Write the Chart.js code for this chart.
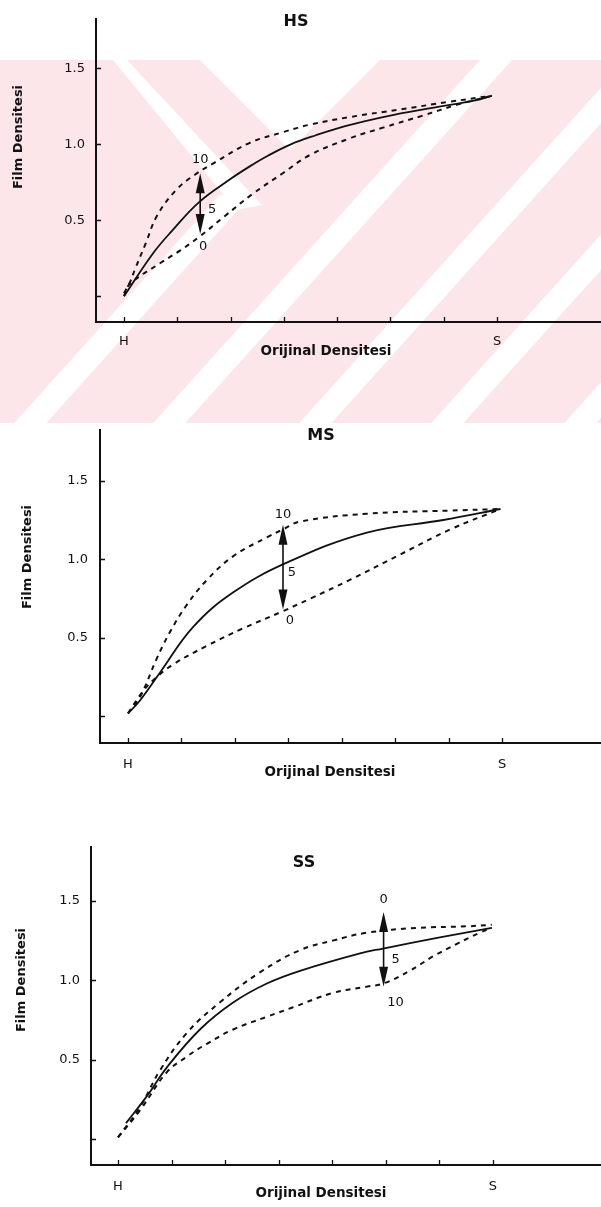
<!DOCTYPE html>
<html>
<head>
<meta charset="utf-8">
<script src="https://cdn.jsdelivr.net/npm/chart.js@4/dist/chart.umd.min.js"></script>
<style>
  html, body { margin: 0; padding: 0; background: #fff; }
  body { width: 601px; height: 1207px; position: relative; overflow: hidden; }
  canvas { position: absolute; left: 0; display: block; }
</style>
</head>
<body>
<canvas id="hs" width="601" height="425" style="top:0px"></canvas>
<canvas id="ms" width="601" height="390" style="top:410px"></canvas>
<canvas id="ss" width="601" height="407" style="top:800px"></canvas>
<script>
// axes (x: H .. S in tick steps)
const xTicks = [0, 1, 2, 3, 4, 5, 6, 7];
const xTickLabels = ['H', '', '', '', '', '', '', 'S'];
const yTicks = [0, 0.5, 1.0, 1.5];
const yTickLabels = ['', '0.5', '1.0', '1.5'];
const yAxisTitle = 'Film Densitesi';
const xAxisTitle = 'Orijinal Densitesi';

// HS
const hsTitle = 'HS';
const hs5X = [0, 0.54, 0.9, 1.41, 1.99, 2.36, 2.7, 3.13, 3.6, 4.15, 4.86, 5.94, 6.59, 6.9];
const hs5Y = [0, 0.28, 0.43, 0.62, 0.77, 0.855, 0.925, 1.0, 1.06, 1.12, 1.18, 1.25, 1.29, 1.32];
const hs10X = [0, 0.11, 0.21, 0.41, 0.62, 0.98, 1.33, 1.7, 2.36, 2.98, 3.49, 4.24, 5.18, 6.1, 6.9];
const hs10Y = [0.02, 0.09, 0.18, 0.35, 0.53, 0.70, 0.80, 0.88, 1.01, 1.08, 1.13, 1.18, 1.23, 1.28, 1.32];
const hs0X = [0, 0.11, 0.69, 1.05, 1.41, 1.9, 2.4, 2.98, 3.49, 4.24, 4.86, 5.61, 6.24, 6.9];
const hs0Y = [0, 0.08, 0.22, 0.30, 0.39, 0.53, 0.67, 0.81, 0.93, 1.04, 1.11, 1.19, 1.26, 1.32];
const hsArrowX = 1.43;
const hsArrowY = [0.41, 0.62, 0.81];          // low, mid, high
const hsArrowLabels = ['10', '5', '0'];       // top, mid, bottom

// MS
const msTitle = 'MS';
const ms5X = [0, 0.22, 0.6, 1.22, 1.97, 2.98, 4.47, 5.9, 6.97];
const ms5Y = [0.02, 0.1, 0.28, 0.57, 0.79, 0.98, 1.17, 1.25, 1.32];
const ms10X = [0, 0.22, 0.54, 0.79, 1.1, 1.48, 1.97, 2.6, 2.9, 3.22, 4.47, 6.03, 6.97];
const ms10Y = [0.02, 0.12, 0.37, 0.54, 0.71, 0.87, 1.02, 1.14, 1.19, 1.24, 1.29, 1.31, 1.32];
const ms0X = [0, 0.28, 0.47, 0.84, 1.48, 2.15, 2.9, 3.41, 4.16, 5.09, 6.03, 6.97];
const ms0Y = [0.02, 0.16, 0.23, 0.33, 0.45, 0.56, 0.67, 0.75, 0.87, 1.03, 1.19, 1.32];
const msArrowX = 2.9;
const msArrowY = [0.68, 0.99, 1.22];
const msArrowLabels = ['10', '5', '0'];

// SS
const ssTitle = 'SS';
const ss5X = [0.15, 0.54, 0.91, 1.53, 2.15, 2.78, 3.4, 4.52, 4.95, 6.01, 6.98];
const ss5Y = [0.1, 0.27, 0.45, 0.69, 0.86, 0.98, 1.06, 1.17, 1.20, 1.27, 1.33];
const ss0X = [0, 0.41, 0.78, 1.29, 1.9, 2.65, 3.4, 4.01, 4.65, 5.58, 6.51, 6.98];
const ss0Y = [0.01, 0.2, 0.43, 0.67, 0.86, 1.05, 1.19, 1.25, 1.30, 1.33, 1.34, 1.35];
const ss10X = [0, 0.41, 0.91, 1.29, 1.66, 2.15, 2.78, 3.27, 4.01, 4.65, 4.96, 5.45, 5.88, 6.33, 6.76, 6.98];
const ss10Y = [0.01, 0.18, 0.42, 0.52, 0.60, 0.69, 0.77, 0.83, 0.92, 0.96, 0.98, 1.06, 1.15, 1.23, 1.30, 1.33];
const ssArrowX = 4.96;
const ssArrowY = [0.96, 1.20, 1.43];
const ssArrowLabels = ['0', '5', '10'];

const INK = '#111';
const PINK = '#fce6ea';
const tickFont = '13px "DejaVu Sans", sans-serif';

// scanned-page watermark behind the first plot
function drawWatermark(ctx) {
  ctx.save();
  ctx.fillStyle = PINK;
  ctx.fillRect(0, 60, 601, 363);
  ctx.beginPath();
  ctx.rect(0, 60, 601, 363);
  ctx.clip();
  ctx.fillStyle = '#fff';
  // "/" stripes, x + 0.9*y = c
  const stripes = [[395, 427, 195], [534, 566, 60], [680, 712, 60], [812, 844, 60], [945, 977, 60]];
  stripes.forEach(([c0, c1, yTop]) => {
    ctx.beginPath();
    ctx.moveTo(c0 - 0.9 * yTop, yTop);
    ctx.lineTo(c1 - 0.9 * yTop, yTop);
    ctx.lineTo(c1 - 0.9 * 423, 423);
    ctx.lineTo(c0 - 0.9 * 423, 423);
    ctx.closePath();
    ctx.fill();
  });
  // notch at the top
  ctx.beginPath();
  ctx.moveTo(200, 60); ctx.lineTo(380, 60); ctx.lineTo(290, 150);
  ctx.closePath(); ctx.fill();
  // "\" stripe
  ctx.beginPath();
  ctx.moveTo(113, 60); ctx.lineTo(127, 60); ctx.lineTo(262, 205); ctx.lineTo(236, 210);
  ctx.closePath(); ctx.fill();
  ctx.restore();
}

const panelDecor = {
  id: 'panelDecor',
  beforeDraw(chart, args, opts) {
    if (opts.watermark) drawWatermark(chart.ctx);
  },
  afterDraw(chart, args, opts) {
    const { ctx, chartArea, scales: { x, y } } = chart;
    ctx.save();
    ctx.strokeStyle = INK;
    ctx.fillStyle = INK;

    // short inward tick marks
    ctx.lineWidth = 1.3;
    ctx.beginPath();
    x.ticks.forEach(t => {
      const px = Math.round(x.getPixelForValue(t.value)) + 0.5;
      ctx.moveTo(px, chartArea.bottom);
      ctx.lineTo(px, chartArea.bottom - 5);
    });
    y.ticks.forEach(t => {
      const py = Math.round(y.getPixelForValue(t.value)) + 0.5;
      ctx.moveTo(chartArea.left, py);
      ctx.lineTo(chartArea.left + 5, py);
    });
    ctx.stroke();

    // double arrow from the middle curve to the dashed curves
    const a = opts.arrow;
    const ax = x.getPixelForValue(a.x);
    const [lo, mid, hi] = a.y.map(v => y.getPixelForValue(v));
    ctx.lineWidth = 1.6;
    ctx.beginPath();
    ctx.moveTo(ax, hi + 10);
    ctx.lineTo(ax, lo - 10);
    ctx.stroke();
    const head = (tipY, dir) => {
      ctx.beginPath();
      ctx.moveTo(ax, tipY);
      ctx.lineTo(ax - 4.5, tipY + dir * 20);
      ctx.lineTo(ax + 4.5, tipY + dir * 20);
      ctx.closePath();
      ctx.fill();
    };
    head(hi, 1);
    head(lo, -1);

    ctx.font = tickFont;
    ctx.textAlign = 'center';
    ctx.textBaseline = 'middle';
    const off = opts.labelOffsets;
    ctx.fillText(a.labels[0], ax + off[0][0], hi + off[0][1]);
    ctx.fillText(a.labels[1], ax + off[1][0], mid + off[1][1]);
    ctx.fillText(a.labels[2], ax + off[2][0], lo + off[2][1]);

    // panel title and axis titles
    ctx.font = 'bold 16px "DejaVu Sans", sans-serif';
    ctx.fillText(opts.title, opts.titlePos[0], opts.titlePos[1]);
    ctx.font = 'bold 13.5px "DejaVu Sans", sans-serif';
    ctx.fillText(xAxisTitle, opts.xTitlePos[0], opts.xTitlePos[1]);
    ctx.font = 'bold 13px "DejaVu Sans", sans-serif';
    ctx.translate(opts.yTitlePos[0], opts.yTitlePos[1]);
    ctx.rotate(-Math.PI / 2);
    ctx.fillText(yAxisTitle, 0, 0);
    ctx.restore();
  }
};

function pts(xs, ys) {
  return xs.map((v, i) => ({ x: v, y: ys[i] }));
}

function curve(xs, ys, dashed) {
  return {
    data: pts(xs, ys),
    showLine: true,
    borderColor: INK,
    borderWidth: dashed ? 2 : 1.8,
    borderDash: dashed ? [5, 5] : [],
    pointRadius: 0,
    tension: 0.4,
    fill: false
  };
}

function makePanel(id, g, datasets, deco) {
  const canvasH = document.getElementById(id).height;
  new Chart(document.getElementById(id), {
    type: 'scatter',
    data: { datasets },
    options: {
      responsive: false,
      animation: false,
      layout: { padding: { left: 0, right: 0, top: g.top, bottom: 0 } },
      plugins: {
        legend: { display: false },
        tooltip: { enabled: false },
        panelDecor: deco
      },
      scales: {
        x: {
          type: 'linear',
          min: g.xMin, max: g.xMax,
          afterBuildTicks: s => { s.ticks = xTicks.map(v => ({ value: v })); },
          afterFit: s => { s.height = canvasH - g.bottom; },
          grid: { display: false, drawTicks: false },
          border: { display: true, color: INK, width: 2 },
          ticks: {
            autoSkip: false, maxRotation: 0, padding: g.xPad,
            color: INK, font: { family: 'DejaVu Sans', size: 13 },
            callback: v => xTickLabels[xTicks.indexOf(v)] ?? ''
          }
        },
        y: {
          type: 'linear',
          min: g.yMin, max: g.yMax,
          afterBuildTicks: s => { s.ticks = yTicks.map(v => ({ value: v })); },
          afterFit: s => { s.width = g.left; },
          grid: { display: false, drawTicks: false },
          border: { display: true, color: INK, width: 2 },
          ticks: {
            autoSkip: false, padding: g.yPad,
            color: INK, font: { family: 'DejaVu Sans', size: 13 },
            callback: v => yTickLabels[yTicks.indexOf(v)] ?? ''
          }
        }
      }
    },
    plugins: [panelDecor]
  });
}

makePanel('hs',
  { left: 96, top: 5, bottom: 322, xMin: -0.525, xMax: 8.95, yMin: -0.17, yMax: 1.827, xPad: 12, yPad: 11 },
  [curve(hs5X, hs5Y, false), curve(hs10X, hs10Y, true), curve(hs0X, hs0Y, true)],
  {
    watermark: true,
    arrow: { x: hsArrowX, y: hsArrowY, labels: hsArrowLabels },
    labelOffsets: [[0, -14], [12, 8], [3, 13]],
    title: hsTitle, titlePos: [296, 22], xTitlePos: [326, 351], yTitlePos: [19, 137]
  });

makePanel('ms',
  { left: 100, top: 15, bottom: 333, xMin: -0.524, xMax: 8.85, yMin: -0.169, yMax: 1.824, xPad: 14, yPad: 12 },
  [curve(ms5X, ms5Y, false), curve(ms10X, ms10Y, true), curve(ms0X, ms0Y, true)],
  {
    watermark: false,
    arrow: { x: msArrowX, y: msArrowY, labels: msArrowLabels },
    labelOffsets: [[0, -10], [9, 12], [7, 11]],
    title: msTitle, titlePos: [321, 26], xTitlePos: [330, 362], yTitlePos: [28, 147]
  });

makePanel('ss',
  { left: 91, top: 47, bottom: 365, xMin: -0.504, xMax: 9.02, yMin: -0.164, yMax: 1.84, xPad: 14, yPad: 11 },
  [curve(ss5X, ss5Y, false), curve(ss0X, ss0Y, true), curve(ss10X, ss10Y, true)],
  {
    watermark: false,
    arrow: { x: ssArrowX, y: ssArrowY, labels: ssArrowLabels },
    labelOffsets: [[0, -12], [12, 11], [12, 16]],
    title: ssTitle, titlePos: [304, 63], xTitlePos: [321, 393], yTitlePos: [22, 180]
  });
</script>
</body>
</html>
